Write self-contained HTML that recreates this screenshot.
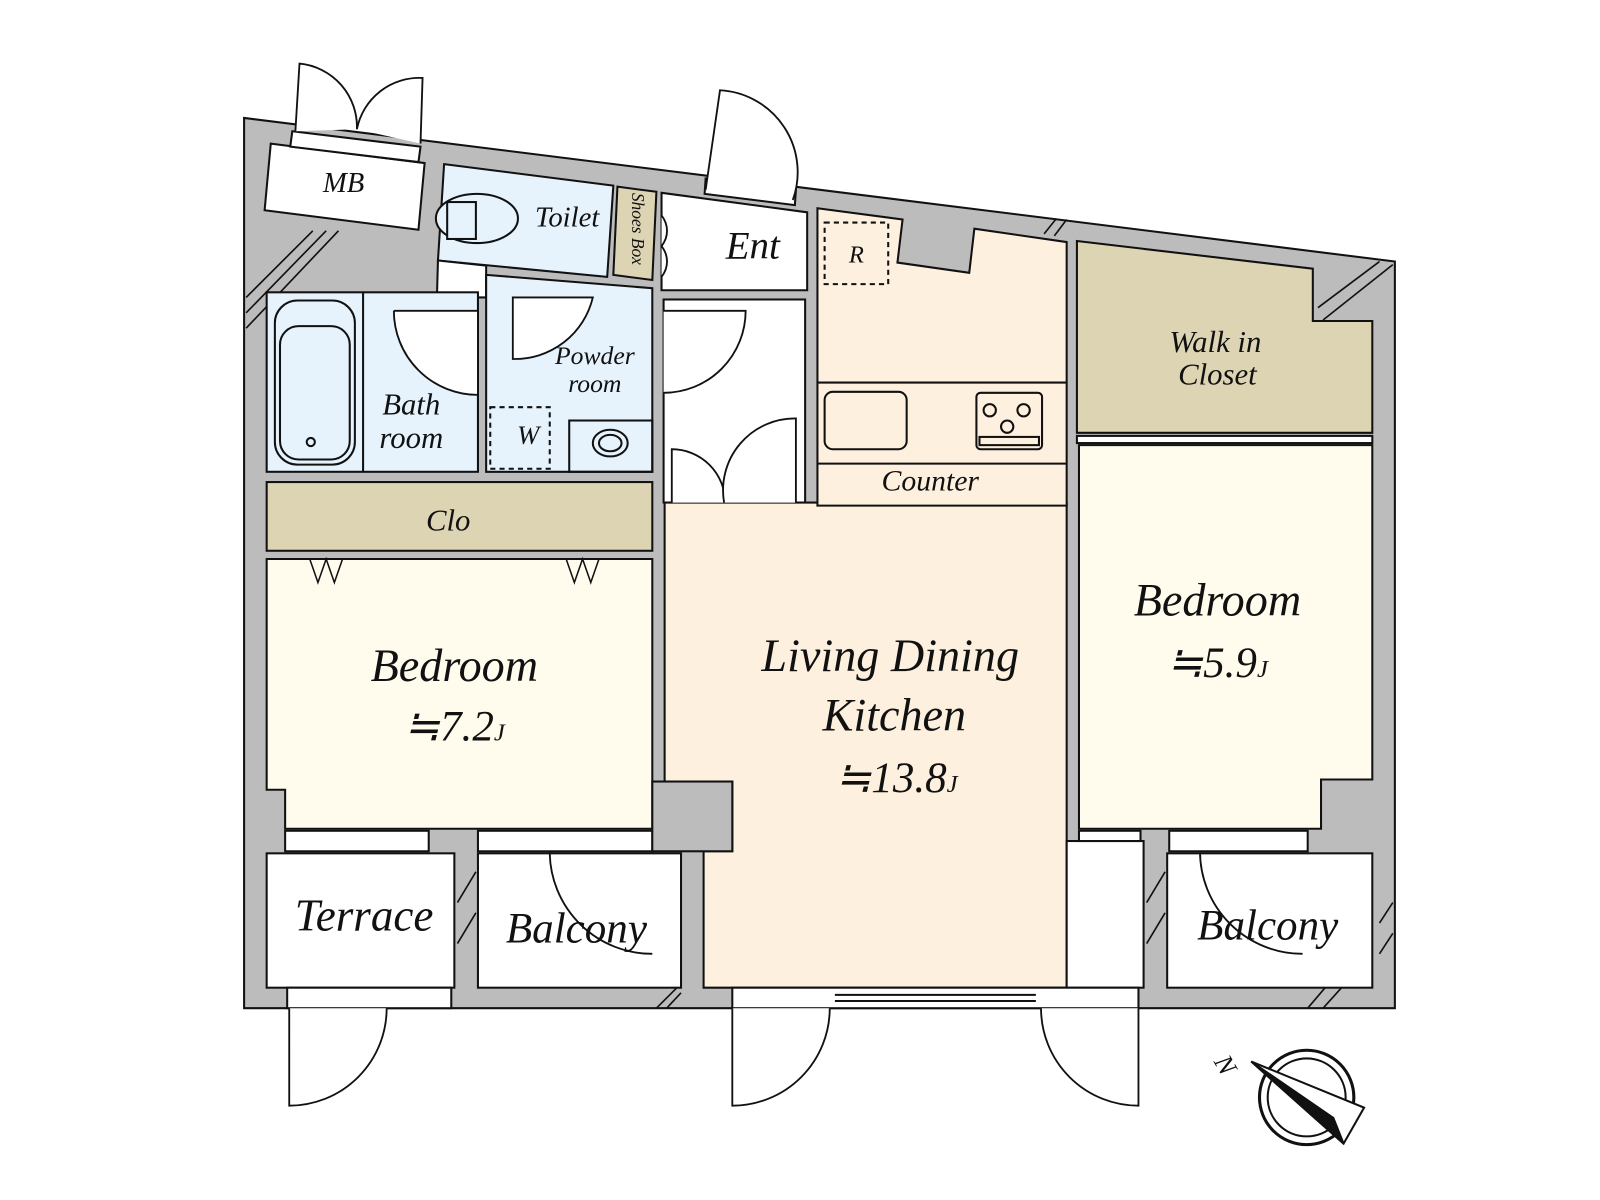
<!DOCTYPE html>
<html><head><meta charset="utf-8"><style>
html,body{margin:0;padding:0;background:#fff;}
svg{display:block;}
text{font-family:"Liberation Serif",serif;font-style:italic;fill:#111;}
</style></head><body>
<svg width="1600" height="1200" viewBox="0 0 1560 1170" xmlns="http://www.w3.org/2000/svg">
<g stroke="#111" stroke-width="2" fill="none">
<polygon points="238,115 1360,255 1360,983 238,983" fill="#bcbcbc"/>
<g stroke-width="1.6">
<line x1="240" y1="290" x2="305" y2="225"/><line x1="240" y1="305" x2="318" y2="225"/><line x1="240" y1="320" x2="330" y2="225"/>
<line x1="1285" y1="300" x2="1345" y2="255"/><line x1="1290" y1="312" x2="1358" y2="258"/>
<line x1="1018" y1="228" x2="1030" y2="213"/><line x1="1028" y1="230" x2="1040" y2="214"/>
<line x1="1345" y1="900" x2="1358" y2="880"/><line x1="1345" y1="930" x2="1358" y2="910"/>
<line x1="640" y1="983" x2="660" y2="963"/><line x1="650" y1="983" x2="664" y2="968"/>
<line x1="1275" y1="983" x2="1292" y2="963"/><line x1="1290" y1="983" x2="1308" y2="963"/>
<line x1="446" y1="880" x2="464" y2="850"/><line x1="446" y1="920" x2="464" y2="890"/>
<line x1="1118" y1="880" x2="1136" y2="850"/><line x1="1118" y1="920" x2="1136" y2="890"/>
</g>
<polygon points="264,140 414,159 408,224 258,205" fill="#fff"/>
<polygon points="433,160 598,181 592,270 427,254" fill="#e6f3fc"/>
<polygon points="427,254 474,259 474,290 426,290" fill="#fff"/>
<polygon points="602,182 640,187 636,273 598,268" fill="#ddd4b4"/>
<polygon points="645,188 787,207 787,283 645,283" fill="#fff"/>
<rect x="647" y="292" width="138" height="198" fill="#fff"/>
<rect x="260" y="285" width="206" height="175" fill="#e6f3fc"/>
<line x1="354" y1="285" x2="354" y2="460"/>
<rect x="268" y="293" width="78" height="160" rx="22" fill="#e6f3fc"/>
<rect x="273" y="318" width="68" height="130" rx="18"/>
<circle cx="303" cy="431" r="4"/>
<polygon points="474,268 636,281 636,460 474,460" fill="#e6f3fc"/>
<rect x="478" y="397" width="58" height="60" stroke-dasharray="5,4"/>
<rect x="555" y="410" width="81" height="50"/>
<ellipse cx="595" cy="432" rx="17" ry="13"/><ellipse cx="595" cy="432" rx="11" ry="8"/>
<ellipse cx="465" cy="213" rx="40" ry="24" fill="#e6f3fc"/>
<rect x="436" y="197" width="28" height="36" fill="#e6f3fc"/>
<rect x="260" y="470" width="376" height="67" fill="#ddd4b4"/>
<polygon points="260,545 636,545 636,808 278,808 278,770 260,770" fill="#fffcee"/>
<polyline points="302,545 310,568 318,545 326,568 334,545" stroke-width="1.5"/>
<polyline points="552,545 560,568 568,545 576,568 584,545" stroke-width="1.5"/>
<rect x="278" y="810" width="140" height="20" fill="#fff"/>
<rect x="466" y="810" width="170" height="20" fill="#fff"/>
<rect x="260" y="832" width="183" height="131" fill="#fff"/>
<rect x="466" y="832" width="198" height="131" fill="#fff"/>
<polygon points="648,490 1040,490 1040,963 686,963 686,830 714,830 714,762 648,762" fill="#fdf0de"/>
<rect x="636" y="762" width="78" height="68" fill="#bcbcbc"/>
<polygon points="797,203 880,214 875,256 945,266 950,223 1040,236 1040,493 797,493" fill="#fdf0de"/>
<line x1="797" y1="373" x2="1040" y2="373"/><line x1="797" y1="452" x2="1040" y2="452"/>
<rect x="804" y="382" width="80" height="56" rx="8"/>
<rect x="952" y="383" width="64" height="55" rx="4"/>
<circle cx="965" cy="400" r="6"/><circle cx="998" cy="400" r="6"/><circle cx="982" cy="416" r="6"/>
<rect x="955" y="426" width="58" height="8"/>
<rect x="804" y="217" width="62" height="60" stroke-dasharray="5,4"/>
<polygon points="1050,235 1280,262 1280,313 1338,313 1338,422 1050,422" fill="#ddd4b4"/>
<rect x="1050" y="425" width="288" height="7" fill="#fff"/>
<polygon points="1052,434 1338,434 1338,760 1288,760 1288,808 1052,808" fill="#fffcee"/>
<rect x="1040" y="820" width="75" height="143" fill="#fff"/>
<rect x="1052" y="810" width="60" height="10" fill="#fff"/>
<rect x="1140" y="810" width="135" height="20" fill="#fff"/>
<rect x="1138" y="832" width="200" height="131" fill="#fff"/>
<rect x="280" y="963" width="160" height="20" fill="#fff"/>
<rect x="714" y="963" width="396" height="20" fill="#fff"/>
<line x1="814" y1="970" x2="1010" y2="970"/><line x1="814" y1="976" x2="1010" y2="976"/>
<polygon points="285,128 410,143 408,158 283,143" fill="#fff"/>
<polygon points="688,174 776,185 775,200 687,189" fill="#fff"/>
<g stroke-width="1.8" fill="#fff">
<path d="M288,128 L292,62 A62,62 0 0 1 348,126"/>
<path d="M410,140 L412,76 A62,62 0 0 0 348,126"/>
<path d="M688,185 L702,88 A80,80 0 0 1 773,195"/>
<path d="M282,983 L282,1078 A95,95 0 0 0 377,983"/>
<path d="M714,983 L714,1078 A95,95 0 0 0 809,983"/>
<path d="M1110,983 L1110,1078 A95,95 0 0 1 1015,983"/>
<path d="M384,303 L466,303 L466,385 A82,82 0 0 1 384,303"/>
<path d="M647,303 L727,303 A80,80 0 0 1 647,383"/>
<path d="M500,290 L578,290 A78,78 0 0 1 500,350 Z" fill="#fff"/>
<path d="M655,490 L655,438 A52,52 0 0 1 707,490"/>
<path d="M776,490 L776,408 A70,70 0 0 0 706,490"/>
<path d="M645,210 A40,30 0 0 1 645,240 A40,30 0 0 1 645,270"/>
<path d="M536,830 L536,832 A100,100 0 0 0 636,930" fill="none"/>
<path d="M1170,830 A100,100 0 0 0 1270,930" fill="none"/>
</g>
<circle cx="1274" cy="1070" r="46" stroke-width="3" fill="#fff"/>
<circle cx="1274" cy="1070" r="38"/>
<polygon points="1220,1035 1330,1080 1310,1115" fill="#fff" stroke-width="2"/>
<polygon points="1220,1035 1300,1090 1310,1115" fill="#111"/>
</g>
<text x="335" y="187" font-size="28" text-anchor="middle">MB</text>
<text x="553" y="221" font-size="28" text-anchor="middle">Toilet</text>
<text transform="translate(616,188) rotate(90)" font-size="17">Shoes Box</text>
<text x="734" y="252" font-size="38" text-anchor="middle">Ent</text>
<text x="835" y="256" font-size="24" text-anchor="middle">R</text>
<text x="580" y="355" font-size="25" text-anchor="middle">Powder</text>
<text x="580" y="382" font-size="25" text-anchor="middle">room</text>
<text x="401" y="404" font-size="30" text-anchor="middle">Bath</text>
<text x="401" y="437" font-size="30" text-anchor="middle">room</text>
<text x="515" y="433" font-size="26" text-anchor="middle">W</text>
<text x="437" y="517" font-size="30" text-anchor="middle">Clo</text>
<text x="907" y="478" font-size="29" text-anchor="middle">Counter</text>
<text x="1185" y="343" font-size="30" text-anchor="middle">Walk in</text>
<text x="1187" y="375" font-size="30" text-anchor="middle">Closet</text>
<text x="443" y="664" font-size="45" text-anchor="middle">Bedroom</text>
<text x="443" y="722" font-size="42" text-anchor="middle">≒7.2<tspan font-size="24">J</tspan></text>
<text x="868" y="654" font-size="45" text-anchor="middle">Living Dining</text>
<text x="872" y="712" font-size="45" text-anchor="middle">Kitchen</text>
<text x="874" y="772" font-size="42" text-anchor="middle">≒13.8<tspan font-size="24">J</tspan></text>
<text x="1187" y="600" font-size="45" text-anchor="middle">Bedroom</text>
<text x="1187" y="660" font-size="42" text-anchor="middle">≒5.9<tspan font-size="24">J</tspan></text>
<text x="355" y="907" font-size="44" text-anchor="middle">Terrace</text>
<text x="562" y="919" font-size="42" text-anchor="middle">Balcony</text>
<text x="1236" y="916" font-size="42" text-anchor="middle">Balcony</text>
<text transform="translate(1183,1035) rotate(60)" font-size="26">N</text>
</svg>
</body></html>
